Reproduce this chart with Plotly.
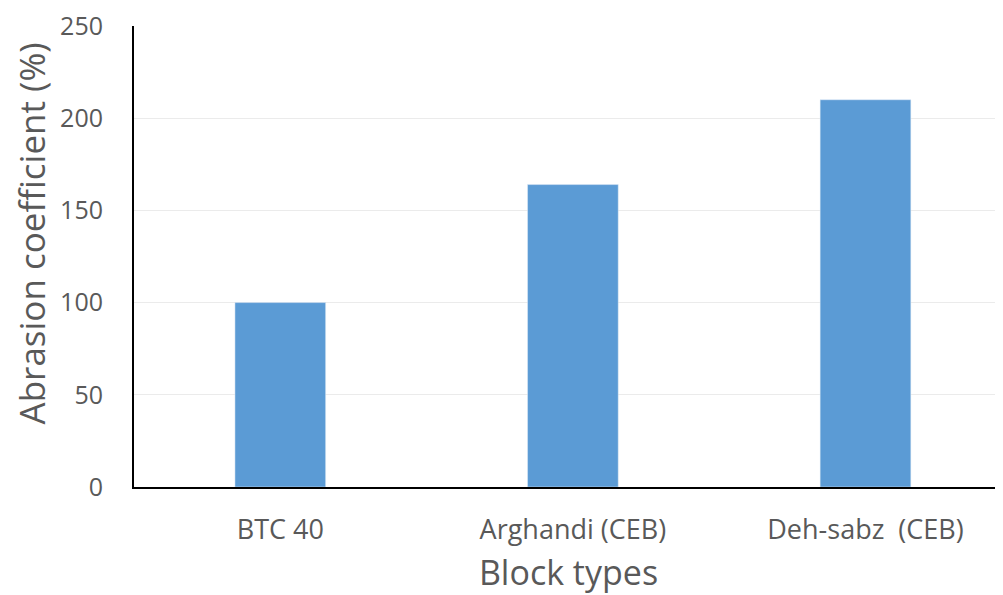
import plotly.graph_objects as go

blocks = ["BTC 40", "Arghandi (CEB)", "Deh-sabz  (CEB)"]
abrasion = [100, 164, 210]
yticks = [0, 50, 100, 150, 200, 250]

fig = go.Figure()
fig.add_trace(go.Bar(x=blocks, y=abrasion, marker_color="#5b9bd5", width=0.31))

font = "Open Sans, Liberation Sans, sans-serif"
# page body has an 8px margin, so the figure is a bit smaller than the window
fig.update_layout(
    width=995, height=587,
    margin=dict(l=126, r=0, t=18, b=108),
    plot_bgcolor="white", paper_bgcolor="white",
    showlegend=False,
    font=dict(family=font, color="#595959"),
)
fig.update_xaxes(
    type="category", range=[-0.5, 2.47], automargin=False,
    tickfont_size=27, ticklabelstandoff=18,
    showline=True, linecolor="black", linewidth=2,
    ticks="", showgrid=False,
    title=dict(text="Block types", font_size=34, standoff=28),
)
fig.update_yaxes(
    range=[0, 250], tickvals=yticks, automargin=False,
    tickfont_size=25, ticklabelstandoff=24, ticklabeloverflow="allow",
    showline=True, linecolor="black", linewidth=2,
    gridcolor="#ebebeb", gridwidth=1, zeroline=False, ticks="",
)
# y title sits above the middle of the axis in the original, so place it by hand
fig.add_annotation(
    text="Abrasion coefficient (%)", textangle=-90,
    xref="paper", yref="paper", x=0, y=0.55, xanchor="center", yanchor="middle",
    xshift=-103, showarrow=False, font=dict(size=35, color="#595959"),
)
fig.write_html("out.html")
